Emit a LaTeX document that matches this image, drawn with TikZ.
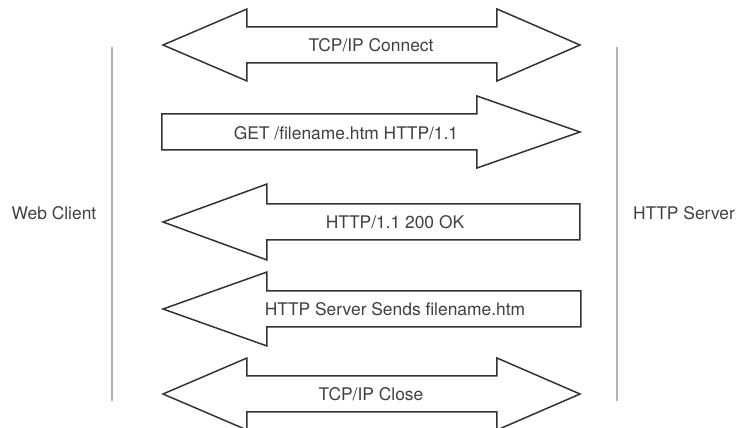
\documentclass[tikz,border=0pt]{standalone}
\usepackage{fontspec}
\setmainfont{TeX Gyre Heros}
\usetikzlibrary{positioning}

\begin{document}
\begin{tikzpicture}[x=0.5pt,y=-0.5pt]
	% Define styles for the big arrows, labels and the two sides
	\tikzset{
		bigarrow/.style={draw=black!80, line width=0.75pt, fill=white, line join=miter},
		arrowlabel/.style={text=black!75, font=\fontsize{8.7}{10}\selectfont, inner sep=0pt},
		sidelabel/.style={text=black!75, font=\fontsize{8.7}{10}\selectfont, inner sep=0pt},
		lifeline/.style={draw=black!30, line width=1pt}
	}
	% half widths of shaft and head
	\def\hs{18}
	\def\hh{36}

	% Fix the picture size
	\useasboundingbox (0,0) rectangle (736,428);

	% Side labels and the two vertical lines
	\node[sidelabel] (client) at (54,213) {Web Client};
	\node[sidelabel] (server) at (684,213) {HTTP Server};
	\coordinate (cltop) at (112,47);
	\coordinate (clbot) at (112,401);
	\coordinate (svtop) at (617,47);
	\coordinate (svbot) at (617,401);
	\draw[lifeline] (cltop) -- (clbot);
	\draw[lifeline] (svtop) -- (svbot);

	% TCP/IP Connect (both ways)
	\def\yc{45}
	\draw[bigarrow] (163,\yc) -- (247,\yc-\hh) -- (247,\yc-\hs) -- (497,\yc-\hs) -- (497,\yc-\hh)
		-- (580,\yc) -- (497,\yc+\hh) -- (497,\yc+\hs) -- (247,\yc+\hs) -- (247,\yc+\hh) -- cycle;
	\node[arrowlabel] (connect) at (371,\yc) {TCP/IP Connect};

	% GET request (client to server)
	\def\yc{132}
	\draw[bigarrow] (162,\yc-\hs) -- (477,\yc-\hs) -- (477,\yc-\hh) -- (580,\yc)
		-- (477,\yc+\hh) -- (477,\yc+\hs) -- (162,\yc+\hs) -- cycle;
	\node[arrowlabel] (request) at (346,\yc+1) {GET /filename.htm HTTP/1.1};

	% Status line (server to client)
	\def\yc{222}
	\draw[bigarrow] (163,\yc) -- (267,\yc-\hh-2) -- (267,\yc-\hs) -- (580,\yc-\hs)
		-- (580,\yc+\hs) -- (267,\yc+\hs) -- (267,\yc+\hh+2) -- cycle;
	\node[arrowlabel] (status) at (395,\yc) {HTTP/1.1 200 OK};

	% File transfer (server to client)
	\def\yc{309}
	\draw[bigarrow] (163,\yc) -- (267,\yc-\hh-1) -- (267,\yc-\hs) -- (581,\yc-\hs)
		-- (581,\yc+\hs) -- (267,\yc+\hs) -- (267,\yc+\hh+1) -- cycle;
	\node[arrowlabel] (sends) at (395,\yc) {HTTP Server Sends filename.htm};

	% TCP/IP Close (both ways)
	\def\yc{394}
	\draw[bigarrow] (163,\yc) -- (247,\yc-\hh) -- (247,\yc-\hs) -- (497,\yc-\hs) -- (497,\yc-\hh)
		-- (580,\yc) -- (497,\yc+\hh) -- (497,\yc+\hs) -- (247,\yc+\hs) -- (247,\yc+\hh) -- cycle;
	\node[arrowlabel] (close) at (371,\yc) {TCP/IP Close};

\end{tikzpicture}
\end{document}
